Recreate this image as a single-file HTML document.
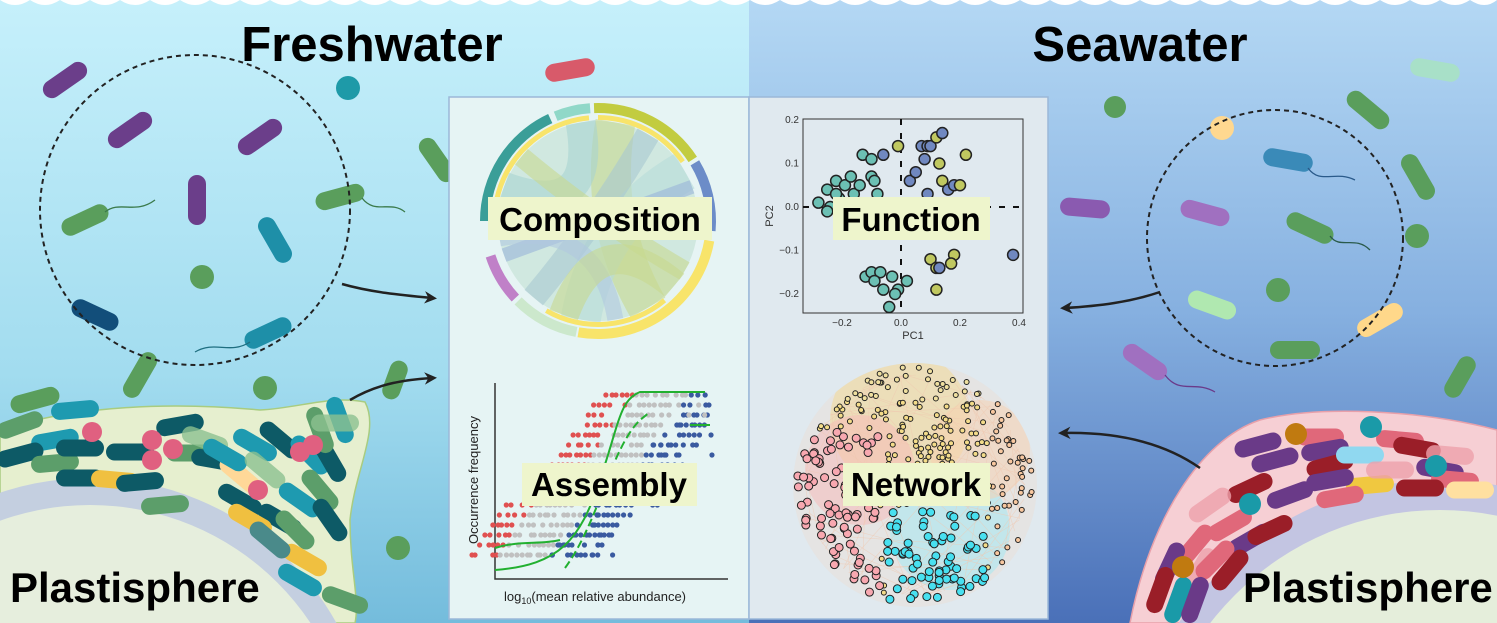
<!DOCTYPE html>
<html><head><meta charset="utf-8"><style>
html,body{margin:0;padding:0;width:1497px;height:623px;overflow:hidden;background:#fff}
svg{display:block}
text{font-family:"Liberation Sans",Arial,sans-serif}
</style></head><body>
<svg id="s" width="1497" height="623" viewBox="0 0 1497 623" xmlns="http://www.w3.org/2000/svg">
<defs>
<linearGradient id="gl" x1="0" y1="0" x2="0" y2="1"><stop offset="0" stop-color="#c6f0fb"/><stop offset="0.6" stop-color="#a2dcef"/><stop offset="1" stop-color="#74bcdc"/></linearGradient>
<linearGradient id="gr" x1="0" y1="0" x2="0" y2="1"><stop offset="0" stop-color="#b4d8f4"/><stop offset="0.5" stop-color="#86b0e0"/><stop offset="1" stop-color="#4a70b8"/></linearGradient>
<marker id="ah" viewBox="0 0 10 10" refX="6" refY="5" markerWidth="5" markerHeight="5" orient="auto"><path d="M0,0 L10,5 L0,10 L3,5z" fill="#222"/></marker>
<clipPath id="cnet"><circle cx="915" cy="485" r="122"/></clipPath>
<clipPath id="full"><rect x="0" y="0" width="1497" height="623"/></clipPath>
</defs>
<g clip-path="url(#full)">
<rect x="0" y="0" width="749" height="623" fill="url(#gl)"/>
<rect x="749" y="0" width="748" height="623" fill="url(#gr)"/>
<path id="wave" d="" fill="#fff"/>
<path d="M0,430 C60,410 150,400 260,410 C300,408 330,395 365,402 C380,430 355,470 350,520 C350,570 360,600 355,623 L0,623Z" fill="#e6efcf" stroke="#a8cc80" stroke-width="1.5"/>
<circle cx="90" cy="760" r="282" fill="#c4cfe0"/>
<circle cx="90" cy="770" r="265" fill="#e6eedd"/>
<path d="M1497,430 C1420,410 1320,405 1260,420 C1200,440 1150,520 1130,623 L1497,623Z" fill="#f6cfd4" stroke="#e8a0aa" stroke-width="1.5"/>
<circle cx="1440" cy="790" r="310" fill="#c3c5e2"/>
<circle cx="1440" cy="800" r="290" fill="#e5eedb"/>
<g id="bact"></g>
<circle cx="195" cy="210" r="155" fill="none" stroke="#222" stroke-width="2" stroke-dasharray="5,4"/>
<circle cx="1275" cy="238" r="128" fill="none" stroke="#222" stroke-width="2" stroke-dasharray="5,4"/>
<path d="M342,284 C370,292 400,295 432,298" fill="none" stroke="#222" stroke-width="2.5" marker-end="url(#ah)"/>
<path d="M350,400 C375,385 400,380 432,378" fill="none" stroke="#222" stroke-width="2.5" marker-end="url(#ah)"/>
<path d="M1160,292 C1130,302 1100,306 1065,308" fill="none" stroke="#222" stroke-width="2.5" marker-end="url(#ah)"/>
<path d="M1200,468 C1160,440 1110,432 1063,433" fill="none" stroke="#222" stroke-width="2.5" marker-end="url(#ah)"/>
<rect x="449" y="97" width="300" height="522" fill="#e6f4f4" stroke="#9bb8d8" stroke-width="1.5"/>
<rect x="749" y="97" width="299" height="522" fill="#e0e9ef" stroke="#9bb8d8" stroke-width="1.5"/>
<g id="chord"></g>
<g id="scat"></g>
<g id="asm"></g>
<g id="net" clip-path="url(#cnet)"></g>
<rect x="488" y="197" width="224" height="43" fill="#eef5cc"/>
<text x="600" y="231" font-size="33" font-weight="bold" text-anchor="middle">Composition</text>
<rect x="833" y="197" width="157" height="43" fill="#eef5cc"/>
<text x="911" y="231" font-size="33" font-weight="bold" text-anchor="middle">Function</text>
<rect x="522" y="463" width="175" height="43" fill="#eef5cc"/>
<text x="609" y="496" font-size="33" font-weight="bold" text-anchor="middle">Assembly</text>
<rect x="843" y="463" width="147" height="43" fill="#eef5cc"/>
<text x="916" y="496" font-size="33" font-weight="bold" text-anchor="middle">Network</text>
<text x="372" y="61" font-size="49" font-weight="bold" text-anchor="middle">Freshwater</text>
<text x="1140" y="61" font-size="49" font-weight="bold" text-anchor="middle">Seawater</text>
<text x="10" y="602" font-size="42" font-weight="bold">Plastisphere</text>
<text x="1243" y="602" font-size="42" font-weight="bold">Plastisphere</text>
</g>
</svg>
<script>
var NS="http://www.w3.org/2000/svg";
function el(p,t,a){var e=document.createElementNS(NS,t);for(var k in a)e.setAttribute(k,a[k]);p.appendChild(e);return e;}
var seed=7;function R(){seed=(seed*16807)%2147483647;return seed/2147483647;}
var d="M0,0 ";for(var x=0;x<1497;x+=30){d+="L"+x+",0 Q"+(x+15)+",10 "+Math.min(x+30,1497)+",0 ";}d+="Z";
document.getElementById("wave").setAttribute("d",d);
var B=document.getElementById("bact");
function rod(cx,cy,l,w,ang,c,op){el(B,"rect",{x:cx-l/2,y:cy-w/2,width:l,height:w,rx:w/2,fill:c,transform:"rotate("+ang+" "+cx+" "+cy+")",opacity:op||1});}
function dot(cx,cy,r,c){el(B,"circle",{cx:cx,cy:cy,r:r,fill:c});}
function tail(d,c){el(B,"path",{d:d,fill:"none",stroke:c,"stroke-width":1.3});}
rod(65,80,50,18,-35,"#6b3e8a");rod(130,130,50,18,-35,"#6b3e8a");rod(260,137,50,18,-35,"#6b3e8a");rod(197,200,50,18,90,"#6b3e8a");
rod(570,70,50,18,-10,"#d85a6a");dot(348,88,12,"#1e9aa8");rod(437,160,50,18,55,"#5a9e5c");
rod(275,240,50,18,60,"#1e8fa8");rod(85,220,50,18,-25,"#5a9e5c");tail("M105,212 C120,200 135,215 155,200","#3a7a4a");
rod(340,197,50,18,-15,"#5a9e5c");tail("M362,198 C375,215 390,200 405,212","#3a7a4a");
dot(202,277,12,"#5a9e5c");rod(95,315,50,18,25,"#124e7a");rod(268,333,50,18,-25,"#1e8fa8");tail("M250,342 C230,355 215,340 195,352","#1e6e80");
rod(140,375,50,18,-60,"#5a9e5c");dot(265,388,12,"#5a9e5c");rod(35,400,50,18,-15,"#5a9e5c");rod(395,380,40,18,-70,"#5a9e5c");dot(398,548,12,"#5a9e5c");
dot(1115,107,11,"#5a9e5c");rod(1435,70,50,18,10,"#a8e0c8");rod(1368,110,50,18,40,"#5a9e5c");dot(1222,128,12,"#ffd890");
rod(1085,208,50,18,5,"#8a5ab0");rod(1205,213,50,18,15,"#a070c0");rod(1288,160,50,18,10,"#3a8ab8");tail("M1308,168 C1320,185 1335,170 1355,180","#2a5a8a");
rod(1418,177,50,18,60,"#5a9e5c");rod(1310,228,50,18,25,"#5a9e5c");tail("M1330,236 C1340,250 1355,235 1370,250","#2a5a4a");dot(1417,236,12,"#5a9e5c");
dot(1278,290,12,"#5a9e5c");rod(1212,305,50,18,20,"#b0e8b0");rod(1380,320,50,18,-30,"#ffd88a");rod(1295,350,50,18,0,"#5a9e5c");
rod(1145,362,50,18,35,"#a070c0");tail("M1165,375 C1180,395 1195,380 1215,392","#6a3a8a");rod(1460,377,45,18,-60,"#5a9e5c");
var LC=["#0d5a66","#1e9ab0","#5c9e6a","#8cc090","#c07a10","#f0c040","#ffd898","#4a8a8a"];
var lp=[[20,425,-20,2],[55,440,-10,1],[20,455,-15,0],[55,463,-5,2],[80,448,0,0],[80,478,0,0],[75,410,-5,1],[130,452,0,0],[115,480,5,5],[140,482,-5,0],[180,425,-10,0],[190,453,0,2],[165,505,-5,2],[215,460,10,0],[205,440,20,3],[240,475,40,6],[225,455,30,1],[255,445,30,1],[240,500,30,0],[265,470,40,3],[280,440,40,0],[310,455,45,1],[300,500,35,1],[280,520,30,0],[250,520,30,5],[295,530,45,2],[320,490,50,2],[330,520,55,0],[305,560,30,5],[300,580,30,1],[330,460,60,0],[320,430,70,2],[340,420,70,1],[335,423,0,3],[270,540,40,7],[345,600,20,2]];
lp.forEach(function(p){rod(p[0],p[1],48,17,p[2],LC[p[3]],p[3]==3?0.8:1);});
[[92,432],[152,440],[173,449],[152,460],[313,445],[300,452],[258,490]].forEach(function(p){dot(p[0],p[1],10,"#e06080");});
var RC=["#9a1e28","#e0687a","#eea0aa","#6a3a88","#1a9aa8","#f0c840","#ffe0a0","#90d8f0"];
var rp=[[1258,445,-15,3],[1275,460,-15,3],[1320,437,0,1],[1325,450,-10,3],[1330,465,-15,0],[1400,440,5,1],[1417,448,10,0],[1450,455,5,2],[1440,470,10,3],[1455,480,5,1],[1370,485,-5,5],[1420,488,0,0],[1470,490,0,6],[1250,488,-25,0],[1290,495,-20,3],[1330,480,-10,3],[1340,497,-10,1],[1230,525,-30,1],[1250,540,-30,3],[1270,530,-25,0],[1210,505,-35,2],[1195,545,-50,1],[1200,570,-60,2],[1215,560,-45,1],[1230,570,-50,0],[1170,565,-65,3],[1160,590,-70,0],[1178,600,-70,4],[1195,600,-70,3],[1360,455,0,7],[1390,470,0,2]];
rp.forEach(function(p){rod(p[0],p[1],48,17,p[2],RC[p[3]],p[3]==2?0.8:1);});
[[1296,434],[1371,427],[1436,466],[1250,504],[1183,567]].forEach(function(p,i){dot(p[0],p[1],11,i==0||i==4?"#c07a10":"#1a9aa8");});
var C=document.getElementById("chord"),cx=598,cy=221,r=115;
function arcP(a0,a1,rr){return [cx+rr*Math.cos(a0),cy+rr*Math.sin(a0),cx+rr*Math.cos(a1),cy+rr*Math.sin(a1)];}
function seg(a0,a1,r0,r1,c){a0=a0*Math.PI/180;a1=a1*Math.PI/180;var o=arcP(a0,a1,r1),i=arcP(a0,a1,r0),lg=(a1-a0)>Math.PI?1:0;
el(C,"path",{d:"M"+o[0]+","+o[1]+" A"+r1+","+r1+" 0 "+lg+" 1 "+o[2]+","+o[3]+" L"+i[2]+","+i[3]+" A"+r0+","+r0+" 0 "+lg+" 0 "+i[0]+","+i[1]+"Z",fill:c});}
el(C,"circle",{cx:cx,cy:cy,r:100,fill:"#d0e8e0"});
function rib(a,b,c,w){a=a*Math.PI/180;b=b*Math.PI/180;var x0=cx+100*Math.cos(a),y0=cy+100*Math.sin(a),x1=cx+100*Math.cos(b),y1=cy+100*Math.sin(b);
el(C,"path",{d:"M"+x0+","+y0+" Q"+cx+","+cy+" "+x1+","+y1,fill:"none",stroke:c,"stroke-width":w,opacity:0.6});}
rib(-80,60,"#c8d890",40);rib(-30,100,"#b8dcd8",40);rib(200,-100,"#a8d4d0",30);rib(-20,160,"#9ab4d8",14);rib(30,220,"#c8d890",20);rib(-60,130,"#a8c8d0",24);rib(170,80,"#b0c8e0",16);rib(40,110,"#c8d890",30);
var segs=[[-92,-33,"#c2cc40"],[-31,5,"#6c8cc8"],[10,100,"#f8e46a"],[101,135,"#cce8cc"],[137,162,"#c080c8"],[180,245,"#3a9e98"],[248,266,"#90d8c8"]];
segs.forEach(function(s){seg(s[0],s[1],108,118,s[2]);});
seg(-90,-35,101,106,"#f8e46a");seg(-150,-95,101,106,"#f8e46a");seg(50,120,101,106,"#f8e46a");seg(170,230,101,106,"#f8e46a");
var S=document.getElementById("scat");
el(S,"rect",{x:803,y:119,width:220,height:194,fill:"none",stroke:"#333","stroke-width":1});
function px(v){return 901+v*295;}function py(v){return 207-v*435;}
el(S,"line",{x1:901,y1:119,x2:901,y2:313,stroke:"#111","stroke-width":2,"stroke-dasharray":"6,8"});
el(S,"line",{x1:803,y1:207,x2:1023,y2:207,stroke:"#111","stroke-width":2,"stroke-dasharray":"6,8"});
[-0.2,0,0.2,0.4].forEach(function(v){el(S,"text",{x:px(v),y:326,"font-size":10,"text-anchor":"middle",fill:"#333"}).textContent=v==0?"0.0":v.toFixed(1).replace("-","\u2212");});
[0.2,0.1,0,-0.1,-0.2].forEach(function(v){el(S,"text",{x:799,y:py(v)+3,"font-size":10,"text-anchor":"end",fill:"#333"}).textContent=v==0?"0.0":v.toFixed(1).replace("-","\u2212");});
el(S,"text",{x:913,y:339,"font-size":11,"text-anchor":"middle",fill:"#333"}).textContent="PC1";
el(S,"text",{x:773,y:216,"font-size":11,"text-anchor":"middle",fill:"#333",transform:"rotate(-90 773 216)"}).textContent="PC2";
var T="#6cc0b4",P="#7088c0",Y="#c0c860";
var pts=[[-0.28,0.01,T],[-0.25,0.04,T],[-0.24,0.0,T],[-0.22,0.06,T],[-0.21,0.02,T],[-0.19,0.05,T],[-0.17,0.07,T],[-0.16,0.03,T],[-0.14,0.05,T],[-0.13,0.12,T],[-0.1,0.11,T],[-0.1,0.07,T],[-0.09,0.06,T],[-0.08,0.03,T],[-0.06,0.12,P],[-0.01,0.14,Y],[-0.25,-0.01,T],[-0.22,0.03,T],[0.03,0.06,P],[0.05,0.08,P],[0.07,0.14,P],[0.08,0.11,P],[0.09,0.14,P],[0.1,0.14,P],[0.12,0.16,Y],[0.13,0.1,Y],[0.14,0.17,P],[0.09,0.03,P],[0.14,0.06,Y],[0.16,0.04,P],[0.18,0.05,P],[0.2,0.05,Y],[0.22,0.12,Y],[0.18,-0.11,Y],[0.1,-0.12,Y],[0.12,-0.14,Y],[0.13,-0.14,P],[0.17,-0.13,Y],[0.12,-0.19,Y],[0.38,-0.11,P],[-0.12,-0.16,T],[-0.1,-0.15,T],[-0.07,-0.15,T],[-0.09,-0.17,T],[-0.06,-0.19,T],[-0.03,-0.16,T],[-0.01,-0.19,T],[-0.02,-0.2,T],[0.02,-0.17,T],[-0.04,-0.23,T],[0.08,-0.03,Y],[0.12,-0.06,Y],[-0.05,-0.05,T]];
pts.forEach(function(p){el(S,"circle",{cx:px(p[0]),cy:py(p[1]),r:5.5,fill:p[2],stroke:"#222","stroke-width":1.5});});
var A=document.getElementById("asm");
el(A,"path",{d:"M495,383 L495,579 L728,579",fill:"none",stroke:"#333","stroke-width":1.5});
el(A,"text",{x:595,y:601,"font-size":13,"text-anchor":"middle",fill:"#222"}).innerHTML='log<tspan font-size="9" dy="3">10</tspan><tspan dy="-3">(mean relative abundance)</tspan>';
el(A,"text",{x:478,y:480,"font-size":13,"text-anchor":"middle",fill:"#222",transform:"rotate(-90 478 480)"}).textContent="Occurrence frequency";
for(var i=0;i<17;i++){var y=395+i*10;var t=i/16;var start=610-t*110-(i>10?20:0);var gs=start+25-t*5,ge=start+80-t*10;
for(var k=0;k<26;k++){var x=start-10+k*5+R()*3;var c=x<gs?"#e05050":(x<ge?"#c0c0c0":"#3a5aa0");if(R()<0.8&&x<710)el(A,"circle",{cx:x,cy:y,r:2.6,fill:c});}
for(var k=0;k<3;k++){var x=ge+R()*70;if(x<715)el(A,"circle",{cx:x,cy:y,r:2.6,fill:i<3?"#c0c0c0":"#3a5aa0"});}}
el(A,"path",{d:"M495,570 C560,565 580,540 600,480 C620,420 620,400 640,392 L705,392",fill:"none",stroke:"#22b030","stroke-width":2});
el(A,"path",{d:"M495,548 C520,540 540,545 560,540",fill:"none",stroke:"#22b030","stroke-width":2});
el(A,"path",{d:"M565,568 C600,520 610,450 640,420 L650,412",fill:"none",stroke:"#22b030","stroke-width":2,"stroke-dasharray":"8,4"});
el(A,"path",{d:"M690,425 L710,425",fill:"none",stroke:"#22b030","stroke-width":2});
var N=document.getElementById("net");
var blobs=[[900,420,70,"#f4d890"],[860,470,55,"#f8b8b8"],[950,530,60,"#a0e8f4"],[980,450,50,"#f8d0b0"]];
el(N,"circle",{cx:915,cy:485,r:122,fill:"#eadfd8",opacity:0.5});
blobs.forEach(function(b){el(N,"circle",{cx:b[0],cy:b[1],r:b[2],fill:b[3],opacity:0.5});});
for(var i=0;i<60;i++){var a=R()*6.28,b=R()*6.28;el(N,"line",{x1:915+110*Math.cos(a),y1:485+110*Math.sin(a),x2:915+110*Math.cos(b),y2:485+110*Math.sin(b),stroke:"#f0c8b0","stroke-width":0.6,opacity:0.6});}
for(var i=0;i<380;i++){var a=R()*6.283,rr=Math.sqrt(R())*118;var x=915+rr*Math.cos(a),y=485+rr*Math.sin(a);
var c="#f4dc8a";if(x<880&&y>430)c="#f8a8b0";if(y>505&&x>885&&x<985)c="#48e0f0";if(x>990)c="#f8c8a0";if(y<400)c="#f0e0a0";
var big=(c=="#48e0f0"||c=="#f8a8b0");el(N,"circle",{cx:x,cy:y,r:big?4:2.5,fill:c,stroke:"#222","stroke-width":1});}
</script>
</body></html>
